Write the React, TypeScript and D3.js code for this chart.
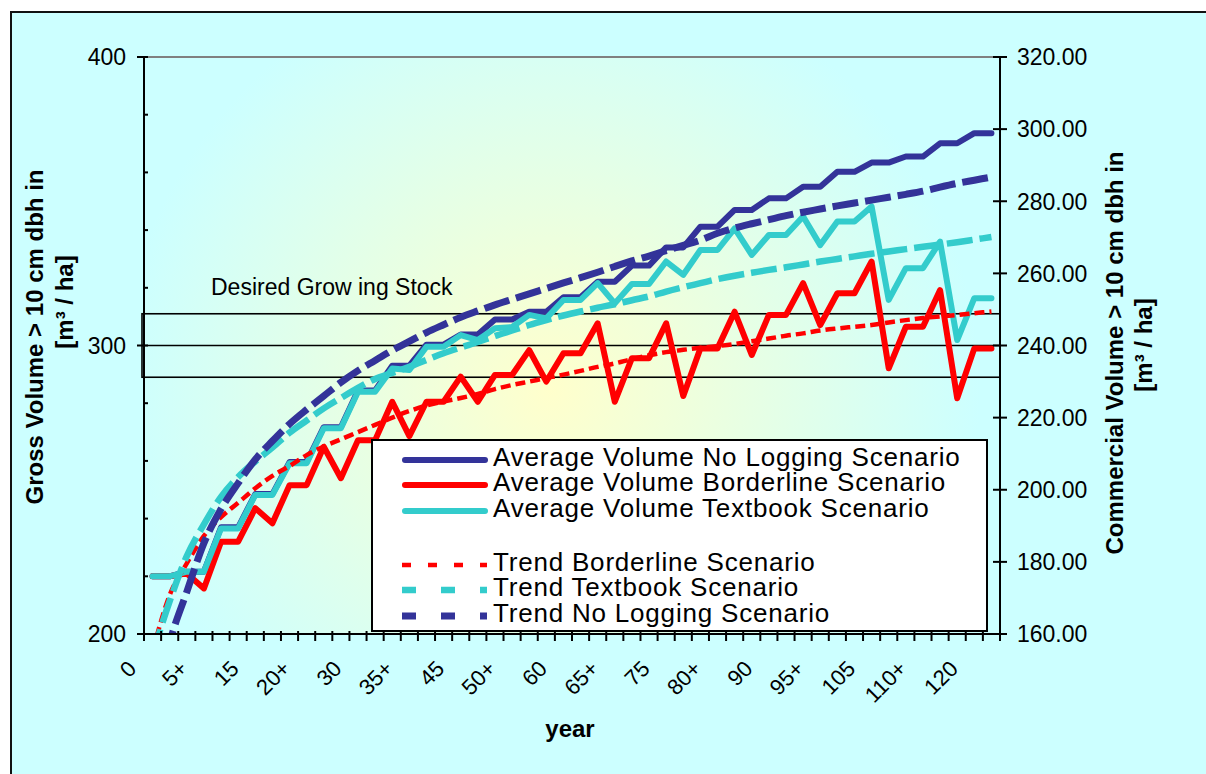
import React from 'react';
import * as d3 from 'd3';

// category axis: every 5 years, before and after ("+") the harvest
const categories = [
  '0', '0+', '5', '5+', '10', '10+', '15', '15+', '20', '20+',
  '25', '25+', '30', '30+', '35', '35+', '40', '40+', '45', '45+',
  '50', '50+', '55', '55+', '60', '60+', '65', '65+', '70', '70+',
  '75', '75+', '80', '80+', '85', '85+', '90', '90+', '95', '95+',
  '100', '100+', '105', '105+', '110', '110+', '115', '115+', '120', '120+',
];

// average gross volume per scenario (m3/ha)
const noLogging = [
  220, 220, 221.6, 221.6, 237, 237, 248.5, 248.5, 259.6, 259.6,
  271.7, 271.7, 284.4, 284.4, 293, 293, 300.3, 300.3, 303.8, 303.8,
  309, 309, 311.7, 311.7, 316.7, 316.7, 322.1, 322.1, 327.7, 327.7,
  334, 334, 341.2, 341.2, 347, 347, 351, 351, 355, 355,
  360.2, 360.2, 363.4, 363.4, 365.5, 365.5, 370.1, 370.1, 373.6, 373.6,
];
const borderline = [
  220, 220, 221, 215.8, 232, 232, 243.6, 238.4, 251.6, 251.6,
  264.9, 254, 267.2, 267.2, 280.5, 268.6, 280.5, 280.5, 289.2, 280.5,
  289.8, 289.8, 298.4, 287.5, 297.3, 297.3, 307.7, 280.5, 295.6, 295.6,
  307.7, 282.5, 299, 299, 311.7, 296.7, 310.6, 310.6, 321.6, 307.1,
  318.1, 318.1, 329.1, 292.1, 306.5, 306.5, 319.2, 281.7, 299, 299,
];
const textbook = [
  220, 220, 221.6, 221.6, 236.6, 236.6, 248.2, 248.2, 259.2, 259.2,
  271.3, 271.3, 284, 284, 292, 291.5, 299.6, 299.6, 303.6, 301.9,
  306, 306.4, 310.6, 309.4, 315.8, 315.8, 321.6, 314.6, 321.3, 321.3,
  329.1, 324.5, 333.1, 333.1, 340.6, 331.4, 338.3, 338.3, 344.7, 334.8,
  343, 343, 348.2, 315.8, 326.8, 326.8, 336, 301.9, 316.4, 316.4,
];

// trend lines
const trendBorderline = [
  194, 213.5, 224.5, 234, 240.5, 245.5, 250.5, 254.8, 258.2, 262,
  265, 267.5, 270, 272.5, 275, 277.3, 279.2, 280.6, 281.8, 283.2,
  284.9, 286.3, 287.5, 288.7, 289.9, 291.2, 292.6, 293.8, 295.3, 296.6,
  297.7, 298.5, 299.2, 299.8, 300.5, 301.5, 302.4, 303.4, 304.2, 305.2,
  305.9, 306.5, 307.1, 308, 308.8, 309.5, 310.1, 310.6, 311.2, 311.8,
];
const trendTextbook = [
  193, 211.4, 227, 238, 247.5, 254.4, 259.8, 264.6, 269.8, 274,
  278.2, 281.8, 285.3, 288.4, 290.5, 292.6, 295, 297.3, 299.3, 301.2,
  303.3, 305.2, 307.1, 308.8, 310.4, 311.8, 313.1, 314.3, 315.7, 317,
  318.7, 320.2, 321.6, 323, 324.2, 325.2, 326.2, 327.1, 328.1, 329.1,
  330, 330.9, 331.8, 332.6, 333.4, 334.2, 335, 335.8, 336.7, 337.6,
];
const trendNoLogging = [
  170, 197, 214.6, 231.5, 243.3, 252.3, 260.5, 266.9, 272.8, 277.8,
  282.5, 287.2, 291.3, 294.8, 298.3, 301.4, 304.5, 307.2, 309.8, 312,
  314.1, 316, 317.9, 319.8, 321.7, 323.5, 325.4, 327.4, 329.3, 331,
  332.9, 334.7, 336.5, 338.9, 340.7, 342.2, 343.6, 345, 346.2, 347.3,
  348.4, 349.4, 350.4, 351.4, 352.4, 353.5, 354.9, 356.2, 357.3, 358.4,
];

// desired growing stock band (lower, target, upper)
const desiredStock = [289, 300, 311];
const leftLabels = [200, 300, 400];

const FONT = "'Liberation Sans', Arial, sans-serif";
const BLUE = '#333399';
const RED = '#FF0000';
const CYAN = '#33CCCC';

export default function App() {
  const W = 1206, H = 774;
  const left = 144, right = 1000, top = 57, bottom = 634;

  const x = d3.scaleBand<string>().domain(categories).range([left, right]);
  const cx = (i: number) => (x(categories[i]) as number) + x.bandwidth() / 2;
  const y = d3.scaleLinear().domain([200, 400]).range([bottom, top]);
  const y2 = d3.scaleLinear().domain([160, 320]).range([bottom, top]);

  const solid = d3.line<number>().x((_, i) => cx(i)).y((v) => y(v));
  const smooth = d3.line<number>().x((_, i) => cx(i)).y((v) => y(v)).curve(d3.curveMonotoneX);

  const series = [
    { name: 'Average Volume No Logging Scenario', values: noLogging, color: BLUE },
    { name: 'Average Volume Borderline Scenario', values: borderline, color: RED },
    { name: 'Average Volume Textbook Scenario', values: textbook, color: CYAN },
  ];
  const trends = [
    { name: 'Trend Borderline Scenario', values: trendBorderline, color: RED, width: 4.5, dash: '10,5', legendDash: '9,17' },
    { name: 'Trend Textbook Scenario', values: trendTextbook, color: CYAN, width: 6.5, dash: '26,7', legendDash: '14,25' },
    { name: 'Trend No Logging Scenario', values: trendNoLogging, color: BLUE, width: 7, dash: '26,7', legendDash: '14,25' },
  ];

  const leftTicks = y.ticks(10);
  const rightTicks = y2.ticks(8);
  const boundaries = d3.range(categories.length + 1).map((k) => left + k * x.step());

  const legend = { x: 372, y: 440, w: 615, h: 191 };
  const solidRows = [460, 485, 511];
  const trendRows = [565, 590, 616];

  return (
    <svg width={W} height={H} style={{ position: 'absolute', left: 0, top: 0 }} fontFamily={FONT}>
      <defs>
        <radialGradient id="plotBg" gradientUnits="userSpaceOnUse" cx={0} cy={0} r={1}
          gradientTransform="translate(550,390) scale(430,430)">
          <stop offset="0" stopColor="#FFFFCC" />
          <stop offset="1" stopColor="#CCFFFF" />
        </radialGradient>
        <clipPath id="plotClip">
          <rect x={left} y={top} width={right - left} height={bottom - top} />
        </clipPath>
      </defs>

      <rect x={0} y={0} width={W} height={H} fill="#fff" />
      <rect x={11} y={12} width={W + 20} height={H + 20} fill="#CCFFFF" stroke="#111" strokeWidth={2} />

      {/* plot area */}
      <rect x={left} y={top} width={right - left} height={bottom - top} fill="url(#plotBg)" />
      <line x1={left} x2={right} y1={top} y2={top} stroke="#808080" strokeWidth={2} />

      {/* desired growing stock */}
      <rect x={142} y={y(desiredStock[2])} width={right - 142} height={y(desiredStock[0]) - y(desiredStock[2])}
        fill="none" stroke="#000" strokeWidth={1.6} />
      <line x1={142} x2={right} y1={y(desiredStock[1])} y2={y(desiredStock[1])} stroke="#000" strokeWidth={1.6} />
      <text x={211} y={295} fontSize={23}>Desired Grow ing Stock</text>

      {/* data */}
      <g fill="none" strokeLinejoin="round" strokeLinecap="round" strokeWidth={6}>
        {series.map((s) => (
          <path key={s.name} d={solid(s.values) || ''} stroke={s.color} />
        ))}
      </g>
      <g fill="none" clipPath="url(#plotClip)">
        {trends.map((t) => (
          <path key={t.name} d={smooth(t.values) || ''} stroke={t.color} strokeWidth={t.width} strokeDasharray={t.dash} />
        ))}
      </g>

      {/* legend */}
      <rect x={legend.x} y={legend.y} width={legend.w} height={legend.h} fill="#fff" stroke="#000" strokeWidth={2} />
      {series.map((s, i) => (
        <g key={s.name}>
          <line x1={405} x2={485} y1={solidRows[i]} y2={solidRows[i]} stroke={s.color} strokeWidth={6} strokeLinecap="round" />
          <text x={493} y={solidRows[i] + 6} fontSize={26} letterSpacing={0.8}>{s.name}</text>
        </g>
      ))}
      {trends.map((t, i) => (
        <g key={t.name}>
          <line x1={402} x2={487} y1={trendRows[i]} y2={trendRows[i]} stroke={t.color} strokeWidth={t.width} strokeDasharray={t.legendDash} />
          <text x={493} y={trendRows[i] + 6} fontSize={26} letterSpacing={0.8}>{t.name}</text>
        </g>
      ))}

      {/* left axis */}
      <line x1={left} x2={left} y1={top - 1} y2={bottom + 1} stroke="#000" strokeWidth={2} />
      {leftTicks.map((v) => {
        const major = leftLabels.includes(v);
        return (
          <g key={v}>
            <line x1={major ? 137 : left} x2={148} y1={y(v)} y2={y(v)} stroke="#000" strokeWidth={2} />
            {major && (
              <text x={126} y={y(v)} dy="0.36em" textAnchor="end" fontSize={23}>{v}</text>
            )}
          </g>
        );
      })}

      {/* right axis */}
      <line x1={right} x2={right} y1={top - 1} y2={bottom + 1} stroke="#000" strokeWidth={2} />
      {rightTicks.map((v) => (
        <g key={v}>
          <line x1={993} x2={1007} y1={y2(v)} y2={y2(v)} stroke="#000" strokeWidth={2} />
          <text x={1017} y={y2(v)} dy="0.36em" fontSize={23}>{v.toFixed(2)}</text>
        </g>
      ))}

      {/* bottom axis */}
      <line x1={left} x2={right} y1={bottom} y2={bottom} stroke="#000" strokeWidth={2} />
      {boundaries.map((bx, k) => (
        <line key={k} x1={bx} x2={bx} y1={631} y2={641} stroke="#000" strokeWidth={2} />
      ))}
      {categories.map((c, i) =>
        i % 3 === 0 ? (
          <text key={c} transform={`translate(${cx(i) - 15},670) rotate(-45)`} textAnchor="end" fontSize={22}>{c}</text>
        ) : null
      )}

      {/* titles */}
      <g fontWeight="bold" fontSize={24} textAnchor="middle">
        <text transform="translate(43,337) rotate(-90)">Gross Volume &gt; 10 cm dbh in</text>
        <text transform="translate(73,302) rotate(-90)">[m³ / ha]</text>
        <text transform="translate(1123,353) rotate(-90)">Commercial Volume &gt; 10 cm dbh in</text>
        <text transform="translate(1152,345) rotate(-90)">[m³ / ha]</text>
        <text x={570} y={737}>year</text>
      </g>
    </svg>
  );
}
